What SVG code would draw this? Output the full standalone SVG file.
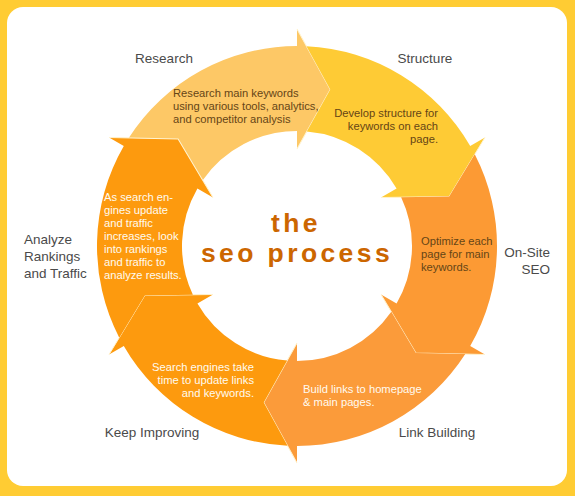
<svg xmlns="http://www.w3.org/2000/svg" xmlns:xlink="http://www.w3.org/1999/xlink" width="575" height="496" viewBox="0 0 575 496">
<style>
.lbl{font-family:"Liberation Sans",Arial,sans-serif;font-size:13.5px;fill:#4a4a4a}
.in{font-family:"Liberation Sans",Arial,sans-serif;font-size:11.2px}
.dk{fill:#654516}
.wt{fill:#fffaf0}
.ttl{font-family:"Liberation Sans",Arial,sans-serif;font-weight:bold;font-size:26.5px;letter-spacing:3.4px;fill:#cc6600;text-anchor:middle}
.edge{fill:none;stroke:#fff3cf;stroke-width:1}
</style>
<defs>
<path id="seg" d="M199.78,9.47 A200,200 0 0 1 100,173.21 L108.5,187.93 L49.44,152.17 L48.5,84 L57.5,99.59 A115,115 0 0 0 114.58,9.83 L156.5,33.27 Z"/>
<polyline id="hd" points="108.5,187.93 49.44,152.17 48.5,84"/>
</defs>
<rect x="0" y="0" width="575" height="496" fill="#ffcc33"/>
<rect x="7" y="7" width="560" height="479" rx="16" fill="#ffffff"/>
<g id="research">
<use xlink:href="#seg" transform="translate(297,246) rotate(210)" fill="#fdc866"/>
<use xlink:href="#hd" class="edge" transform="translate(297,246) rotate(210)"/>
<text class="lbl" x="164" y="63" text-anchor="middle">Research</text>
<text class="in dk" x="173" y="97">Research main keywords</text>
<text class="in dk" x="173" y="110">using various tools, analytics,</text>
<text class="in dk" x="173" y="123">and competitor analysis</text>
</g>
<g id="structure">
<use xlink:href="#seg" transform="translate(297,246) rotate(270)" fill="#fecb35"/>
<use xlink:href="#hd" class="edge" transform="translate(297,246) rotate(270)"/>
<text class="lbl" x="425" y="63" text-anchor="middle">Structure</text>
<text class="in dk" x="438" y="117" text-anchor="end">Develop structure for</text>
<text class="in dk" x="438" y="130" text-anchor="end">keywords on each</text>
<text class="in dk" x="438" y="143" text-anchor="end">page.</text>
</g>
<g id="onsite">
<use xlink:href="#seg" transform="translate(297,246) rotate(330)" fill="#fc9a34"/>
<use xlink:href="#hd" class="edge" transform="translate(297,246) rotate(330)"/>
<text class="lbl" x="550" y="257" text-anchor="end">On-Site</text>
<text class="lbl" x="550" y="274" text-anchor="end">SEO</text>
<text class="in dk" x="421" y="245">Optimize each</text>
<text class="in dk" x="421" y="258">page for main</text>
<text class="in dk" x="421" y="271">keywords.</text>
</g>
<g id="linkbuilding">
<use xlink:href="#seg" transform="translate(297,246) rotate(30)" fill="#fb9b3a"/>
<use xlink:href="#hd" class="edge" transform="translate(297,246) rotate(30)"/>
<text class="lbl" x="437" y="437" text-anchor="middle">Link Building</text>
<text class="in wt" x="303" y="393">Build links to homepage</text>
<text class="in wt" x="303" y="406">&amp; main pages.</text>
</g>
<g id="keepimproving">
<use xlink:href="#seg" transform="translate(297,246) rotate(90)" fill="#fd9a0e"/>
<use xlink:href="#hd" class="edge" transform="translate(297,246) rotate(90)"/>
<text class="lbl" x="152" y="437" text-anchor="middle">Keep Improving</text>
<text class="in wt" x="254" y="371" text-anchor="end">Search engines take</text>
<text class="in wt" x="254" y="384" text-anchor="end">time to update links</text>
<text class="in wt" x="254" y="397" text-anchor="end">and keywords.</text>
</g>
<g id="analyze">
<use xlink:href="#seg" transform="translate(297,246) rotate(150)" fill="#fd9a0e"/>
<use xlink:href="#hd" class="edge" transform="translate(297,246) rotate(150)"/>
<text class="lbl" x="24" y="244">Analyze</text>
<text class="lbl" x="24" y="261">Rankings</text>
<text class="lbl" x="24" y="278">and Traffic</text>
<text class="in wt" x="104" y="201">As search en-</text>
<text class="in wt" x="104" y="214">gines update</text>
<text class="in wt" x="104" y="227">and traffic</text>
<text class="in wt" x="104" y="240">increases, look</text>
<text class="in wt" x="104" y="253">into rankings</text>
<text class="in wt" x="104" y="266">and traffic to</text>
<text class="in wt" x="104" y="279">analyze results.</text>
</g>
<g id="title">
<text class="ttl" x="296" y="232">the</text>
<text class="ttl" x="297" y="262">seo process</text>
</g>
</svg>
